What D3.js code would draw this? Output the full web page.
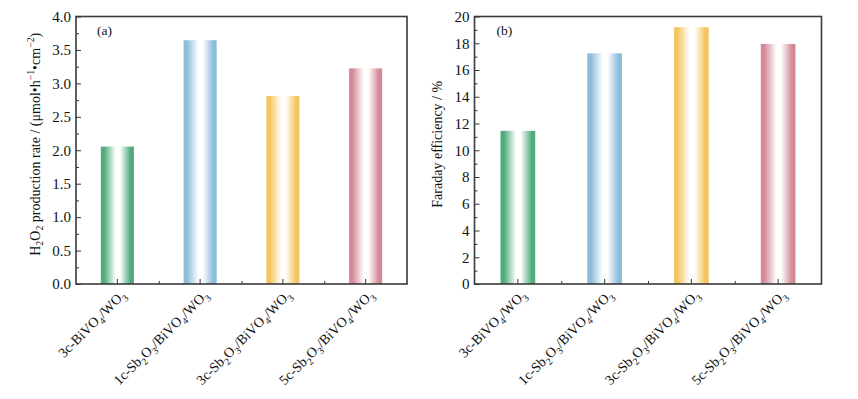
<!DOCTYPE html>
<html>
<head>
<meta charset="utf-8">
<script src="https://cdn.jsdelivr.net/npm/d3@7"></script>
<style>
  body { margin: 0; background: #fff; }
  text { font-family: "Liberation Serif", "Times New Roman", serif; fill: #111; }
</style>
</head>
<body>
<svg id="chart" width="858" height="399"></svg>
<script>
// sample names, each as list of [text, kind] pieces ('' normal, 'sub' subscript)
const samples = [
  [["3c-BiVO", ""], ["4", "sub"], ["/WO", ""], ["3", "sub"]],
  [["1c-Sb", ""], ["2", "sub"], ["O", ""], ["3", "sub"], ["/BiVO", ""], ["4", "sub"], ["/WO", ""], ["3", "sub"]],
  [["3c-Sb", ""], ["2", "sub"], ["O", ""], ["3", "sub"], ["/BiVO", ""], ["4", "sub"], ["/WO", ""], ["3", "sub"]],
  [["5c-Sb", ""], ["2", "sub"], ["O", ""], ["3", "sub"], ["/BiVO", ""], ["4", "sub"], ["/WO", ""], ["3", "sub"]]
];
const barColors = ["#4fab7b", "#8bbcd9", "#f4c55f", "#d38a96"];

const rateValues = [2.055, 3.645, 2.81, 3.225];
const faradayValues = [11.45, 17.25, 19.2, 17.95];

const rateTicks = [0, 0.5, 1.0, 1.5, 2.0, 2.5, 3.0, 3.5, 4.0];
const faradayTicks = [0, 2, 4, 6, 8, 10, 12, 14, 16, 18, 20];

const tickFS = 15, labelFS = 14, tagFS = 13.5;
const svg = d3.select("#chart");
const defs = svg.append("defs");

barColors.forEach((c, i) => {
  const g = defs.append("linearGradient")
    .attr("id", "grad" + i)
    .attr("x1", "0%").attr("x2", "100%")
    .attr("y1", "0%").attr("y2", "0%");
  g.append("stop").attr("offset", "0%").attr("stop-color", c);
  g.append("stop").attr("offset", "10%").attr("stop-color", c);
  g.append("stop").attr("offset", "45%").attr("stop-color", "#ffffff");
  g.append("stop").attr("offset", "58%").attr("stop-color", "#ffffff");
  g.append("stop").attr("offset", "90%").attr("stop-color", c);
  g.append("stop").attr("offset", "100%").attr("stop-color", c);
});

function richText(sel, parts, size) {
  let shifted = 0;
  parts.forEach(p => {
    const t = sel.append("tspan").text(p[0]);
    let want = p[1] === "sub" ? size * 0.28 : (p[1] === "sup" ? -size * 0.38 : 0);
    if (want !== shifted) t.attr("dy", want - shifted);
    shifted = want;
    if (p[1]) t.style("font-size", (size * 0.7) + "px");
  });
}

function drawPanel(cfg) {
  const width = cfg.right - cfg.left;
  const height = cfg.bottom - cfg.top;
  const g = svg.append("g").attr("transform", `translate(${cfg.left},${cfg.top})`);

  const x = d3.scaleBand().domain(d3.range(samples.length)).range([0, width]).paddingInner(0).paddingOuter(0);
  const y = d3.scaleLinear().domain(cfg.domain).range([height, 0]);
  const bw = x.bandwidth() * 0.4;

  g.selectAll(".bar")
    .data(cfg.values)
    .join("rect")
      .attr("class", "bar")
      .attr("x", (d, i) => x(i) + x.bandwidth() / 2 - bw / 2)
      .attr("y", d => y(d))
      .attr("width", bw)
      .attr("height", d => height - y(d))
      .attr("fill", (d, i) => `url(#grad${i})`);

  // y axis, major + minor ticks pointing inward
  const yAxis = d3.axisLeft(y).tickValues(cfg.ticks).tickFormat(cfg.fmt).tickSize(-5).tickSizeOuter(0).tickPadding(5);
  const ya = g.append("g").call(yAxis);
  ya.selectAll("text").style("font-size", tickFS + "px").attr("font-family", null);
  const minor = d3.range(cfg.domain[0], cfg.domain[1], cfg.minorStep).filter(v => !cfg.ticks.some(t => Math.abs(t - v) < 1e-9));
  g.append("g").call(d3.axisLeft(y).tickValues(minor).tickFormat("").tickSize(-3).tickSizeOuter(0));

  // x axis, ticks at bar centres and short ticks between bars
  g.append("g").attr("transform", `translate(0,${height})`)
    .call(d3.axisBottom(x).tickFormat("").tickSize(-5).tickSizeOuter(0));
  const xi = d3.scaleLinear().domain([0, samples.length]).range([0, width]);
  g.append("g").attr("transform", `translate(0,${height})`)
    .call(d3.axisBottom(xi).tickValues([1, 2, 3]).tickFormat("").tickSize(-3).tickSizeOuter(0));

  g.selectAll(".domain").attr("stroke", "none");
  g.selectAll(".tick line").attr("stroke", "#333").attr("stroke-width", 1);

  // frame
  g.append("rect")
    .attr("x", 0).attr("y", 0).attr("width", width).attr("height", height)
    .attr("fill", "none").attr("stroke", "#3a3a3a").attr("stroke-width", 1.6);

  // category labels
  samples.forEach((s, i) => {
    const t = g.append("text")
      .attr("text-anchor", "end")
      .style("font-size", labelFS + "px")
      .attr("transform", `translate(${x(i) + x.bandwidth() / 2 + 9},${height + 12}) rotate(-45)`);
    richText(t, s, labelFS);
  });

  // panel letter
  g.append("text").attr("x", cfg.tagX).attr("y", 18).style("font-size", tagFS + "px").text(cfg.tag);

  // y title
  const yt = svg.append("text")
    .attr("text-anchor", "middle")
    .style("font-size", labelFS + "px")
    .attr("transform", `translate(${cfg.titleX},${cfg.top + height / 2 - 6}) rotate(-90)`);
  richText(yt, cfg.title, labelFS);
}

drawPanel({
  left: 76, right: 407, top: 16.5, bottom: 284,
  domain: [0, 4], ticks: rateTicks, minorStep: 0.25, fmt: d3.format(".1f"),
  values: rateValues, tag: "(a)", tagX: 21, titleX: 39.5,
  title: [["H", ""], ["2", "sub"], ["O", ""], ["2", "sub"], [" production rate / (\u03bcmol\u2022h", ""], ["\u22121", "sup"], ["\u2022cm", ""], ["\u22122", "sup"], [")", ""]]
});

drawPanel({
  left: 474.5, right: 821.5, top: 16.5, bottom: 284,
  domain: [0, 20], ticks: faradayTicks, minorStep: 1, fmt: d3.format("d"),
  values: faradayValues, tag: "(b)", tagX: 22, titleX: 442,
  title: [["Faraday efficiency / %", ""]]
});
</script>
</body>
</html>
